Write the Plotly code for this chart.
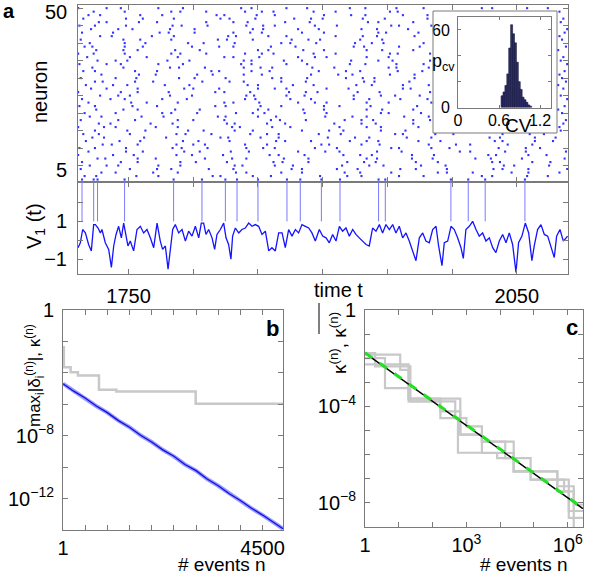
import plotly.graph_objects as go

W, H = 589, 575

# ---------------- data ----------------
# panel a: raster (spike times per neuron, neuron index = position + 1)
spike_times = [
    [1714.0, 1723.0, 1726.0, 1746.9, 1784.8, 1806.7, 1824.8, 1833.8, 1850.0, 1872.4, 1882.7, 1899.0, 1913.4, 1943.2, 1948.4, 1999.1, 2012.5, 2025.6, 2056.3],
    [1716, 1725, 1756, 1773, 1815, 1821, 1846, 1860, 1898, 1919, 1930, 1959, 1978, 2023, 2031, 2058, 2074],
    [1729, 1740, 1769, 1788, 1833, 1841, 1868, 1884, 1917, 1929, 1953, 1989, 1996, 2016, 2046, 2059, 2083],
    [1713, 1751, 1772, 1783, 1812, 1831, 1876, 1884, 1911, 1927, 1960, 1972, 1996, 2032, 2039, 2059, 2089],
    [1720, 1733, 1742, 1773, 1790, 1832, 1838, 1863, 1877, 1915, 1936, 1947, 1976, 1995, 2040, 2048, 2075],
    [1714, 1744, 1757, 1790, 1802, 1826, 1862, 1869, 1889, 1919, 1932, 1941, 1972, 1989, 2031, 2037, 2062, 2076],
    [1726, 1732, 1757, 1771, 1809, 1830, 1841, 1870, 1889, 1934, 1942, 1969, 1985, 2018, 2030, 2054, 2087],
    [1711, 1738, 1754, 1787, 1799, 1823, 1859, 1866, 1886, 1916, 1929, 1938, 1969, 1986, 2028, 2034, 2059, 2073],
    [1719, 1748, 1761, 1793, 1805, 1829, 1843, 1881, 1902, 1913, 1942, 1961, 2006, 2014, 2041, 2057, 2088],
    [1712, 1724, 1748, 1784, 1791, 1811, 1841, 1854, 1863, 1894, 1911, 1953, 1959, 1984, 1998, 2036, 2057, 2068],
    [1730, 1737, 1757, 1787, 1800, 1809, 1840, 1857, 1899, 1905, 1930, 1944, 1982, 2003, 2014, 2043, 2062],
    [1717, 1743, 1759, 1792, 1804, 1828, 1864, 1871, 1891, 1921, 1934, 1943, 1974, 1991, 2033, 2039, 2064, 2078],
    [1722, 1731, 1762, 1779, 1821, 1827, 1852, 1866, 1904, 1925, 1936, 1965, 1984, 2029, 2037, 2064, 2080],
    [1715, 1727, 1751, 1787, 1794, 1814, 1844, 1857, 1866, 1897, 1914, 1956, 1962, 1987, 2001, 2039, 2060, 2071],
    [1724, 1749, 1763, 1796, 1808, 1832, 1846, 1884, 1905, 1916, 1945, 1964, 2084],
    [1711, 1731, 1740, 1771, 1788, 1830, 1836, 1861, 1875, 1913, 1934, 1945, 1974, 2083],
    [1727, 1736, 1767, 1784, 1826, 1832, 1857, 1871, 1909, 1930, 1941, 1970, 2086],
    [1713, 1742, 1755, 1788, 1800, 1824, 1860, 1867, 1887, 1917, 1930, 1939, 1970, 1983, 2088],
    [1720, 1729, 1760, 1777, 1819, 1825, 1850, 1864, 1902, 1923, 1934, 1963, 1982],
    [1716, 1740, 1776, 1783, 1803, 1833, 1846, 1855, 1886, 1903, 1945, 1951, 1976, 2085],
    [1725, 1746, 1757, 1786, 1805, 1850, 1858, 1885, 1901, 1934, 1946, 1970, 2082],
    [1712, 1724, 1753, 1772, 1817, 1825, 1852, 1868, 1901, 1913, 1937, 1973, 2087],
    [1719, 1752, 1764, 1788, 1824, 1831, 1851, 1881, 1894, 1903, 1934, 1951, 1984],
    [1714, 1736, 1747, 1776, 1795, 1840, 1848, 1875, 1891, 1924, 1936, 1960, 1981, 2089],
    [1728, 1742, 1751, 1782, 1799, 1841, 1847, 1872, 1886, 1924, 1945, 1956, 1975, 2084],
    [1711, 1744, 1757, 1781, 1817, 1824, 1844, 1874, 1887, 1896, 1927, 1944, 1983],
    [1721, 1733, 1757, 1793, 1800, 1820, 1850, 1863, 1872, 1903, 1920, 1962, 1968, 2086],
    [1717, 1738, 1749, 1778, 1797, 1842, 1850, 1877, 1893, 1926, 1938, 1962, 1982, 2082],
    [1724, 1730, 1755, 1769, 1807, 1828, 1839, 1868, 1887, 1932, 1940, 1967, 2088],
    [1713, 1740, 1756, 1789, 1801, 1825, 1861, 1868, 1888, 1918, 1931, 1940, 1971, 2085],
    [1729, 1758, 1771, 1803, 1815, 1839, 1853, 1891, 1912, 1923, 1952, 1971, 2083],
    [1715, 1724, 1755, 1772, 1814, 1820, 1845, 1859, 1897, 1918, 1929, 1958, 1977, 2087],
    [1722, 1746, 1782, 1789, 1809, 1839, 1852, 1861, 1892, 1909, 1951, 1957, 1982],
    [1712, 1733, 1744, 1773, 1792, 1837, 1845, 1872, 1888, 1921, 1933, 1957, 1978, 2089],
    [1726, 1740, 1749, 1780, 1797, 1839, 1845, 1870, 1884, 1922, 1943, 1954, 1983, 2084],
    [1718, 1751, 1764, 1788, 1824, 1831, 1851, 1881, 1894, 1903, 1934, 1951, 2086],
    [1711, 1723, 1747, 1783, 1790, 1810, 1840, 1853, 1862, 1893, 1910, 1952, 1958, 1983],
    [1725, 1746, 1757, 1786, 1805, 1850, 1858, 1885, 1901, 1934, 1946, 1970, 2082],
    [1716, 1722, 1747, 1761, 1799, 1820, 1831, 1860, 1879, 1924, 1932, 1959, 1975, 2088],
    [1720, 1747, 1763, 1796, 1808, 1832, 1868, 1875, 1895, 1925, 1938, 1947, 1978],
    [1713, 1746, 1759, 1783, 1819, 1826, 1846, 1876, 1889, 1898, 1929, 1946, 2085],
    [1728, 1737, 1768, 1785, 1827, 1833, 1858, 1872, 1910, 1931, 1942, 1971, 2083],
    [1714, 1738, 1774, 1781, 1801, 1831, 1844, 1853, 1884, 1901, 1943, 1949, 1974, 2087],
    [1721, 1742, 1753, 1782, 1801, 1846, 1854, 1881, 1897, 1930, 1942, 1966, 2089],
    [1712, 1724, 1748, 1784, 1791, 1811, 1841, 1854, 1863, 1894, 1911, 1953, 1959, 1984],
    [1727, 1733, 1758, 1772, 1810, 1831, 1842, 1871, 1890, 1935, 1943, 1970, 2084],
    [1715, 1748, 1761, 1785, 1821, 1828, 1848, 1878, 1891, 1900, 1931, 1948, 1981, 2086],
    [1719, 1728, 1759, 1776, 1818, 1824, 1849, 1863, 1901, 1922, 1933, 1962, 1981],
    [1723, 1747, 1783, 1790, 1810, 1840, 1853, 1862, 1893, 1910, 1952, 1958, 2083],
    [1711, 1733, 1744, 1773, 1792, 1837, 1845, 1872, 1888, 1921, 1933, 1957, 1978, 2023, 2031, 2058, 2074],
]
neuron_ticks = [5, 10, 15, 20, 25, 30, 35, 40, 45, 50]
neuron_labels = {5: "5", 50: "50"}

# panel a: membrane potential of neuron 1
v_time = [1710.9, 1712.7, 1714.5, 1716.6, 1719.1, 1721.2, 1723.0, 1724.3, 1726.4, 1728.2,
          1729.4, 1732.0, 1734.6, 1736.7, 1738.5, 1740.3, 1742.3, 1744.4, 1746.2, 1747.5,
          1749.5, 1751.3, 1753.9, 1756.5, 1759.1, 1761.6, 1764.2, 1766.8, 1769.4, 1772.0,
          1774.5, 1776.3, 1778.4, 1780.5, 1782.3, 1784.1, 1786.1, 1788.7, 1791.3, 1793.9,
          1796.4, 1799.0, 1801.6, 1804.2, 1806.2, 1808.0, 1809.8, 1811.9, 1814.5, 1816.5,
          1818.3, 1820.9, 1823.5, 1825.3, 1827.3, 1829.1, 1830.4, 1832.5, 1835.1, 1837.6,
          1840.2, 1842.8, 1845.4, 1847.9, 1850.5, 1853.1, 1855.7, 1858.3, 1860.8, 1863.4,
          1866.0, 1868.6, 1871.1, 1873.7, 1876.3, 1878.9, 1881.4, 1884.0, 1886.6, 1889.2,
          1891.7, 1894.3,
          1897.4, 1900.0, 1902.6, 1905.1, 1907.7, 1910.3, 1912.9, 1915.4, 1918.0, 1920.6,
          1923.2, 1925.7, 1928.3, 1930.9, 1933.5, 1936.0, 1938.6, 1941.2, 1943.8, 1946.3,
          1948.9, 1951.5, 1954.1, 1956.6, 1959.2, 1961.8, 1964.4, 1966.9, 1969.5, 1972.1,
          1974.7, 1977.3, 1979.8, 1982.4, 1985.0, 1987.6, 1989.6, 1992.2, 1994.0, 1996.6,
          1999.2, 2001.7, 2004.3, 2006.9, 2008.7, 2010.7, 2013.3, 2015.9, 2018.5, 2021.0,
          2023.6, 2026.2, 2028.8, 2031.4, 2033.9, 2036.5, 2039.1, 2041.7, 2044.2, 2046.8,
          2049.4, 2051.4, 2054.0, 2056.6, 2059.2, 2061.7, 2063.5, 2066.1, 2068.7, 2071.3,
          2073.9, 2076.4, 2079.0, 2080.8, 2083.4, 2086.0, 2089.3]
v_values = [-0.39, -0.13, 0.57, 0.39, -0.22, -0.56, 0.83, 0.83, 0.65, 0.39,
            0.57, -0.13, -0.48, -1.43, -0.30, 0.31, 0.74, 0.13, 0.91, 0.39,
            -0.30, -0.04, -0.56, 0.57, 0.74, 0.39, 0.57, 0.13, -0.39, 0.91,
            -0.04, -0.48, -0.30, -1.52, -0.30, 0.57, 0.83, 0.39, 0.57, -0.04,
            0.48, 0.22, 0.74, 0.13, 0.91, 0.91, 0.31, 0.57, 0.13, -0.48,
            0.31, 0.57, 0.91, 0.13, -0.22, -1.00, 0.22, 0.65, 0.39, 0.57,
            0.65, 0.91, 0.74, 0.83, 0.74, 0.31, 0.48, -0.56, -0.39, -0.56,
            0.39, 0.39, -0.39, 0.57, 0.22, 0.57, 0.39, 0.83, 0.74, 0.65,
            0.39, -0.04,
            0.57, 0.22, 0.13, -0.13, 0.31, -0.04, 0.74, 0.48, 0.65, 0.22,
            0.57, 0.31, 0.13, -0.04, -0.22, -0.30, 0.65, 0.48, 0.83, 0.39,
            0.83, 0.57, 0.83, 0.39, 0.74, 0.13, 0.39, -0.04, -0.56, -1.08,
            0.13, 0.39, -0.04, -0.13, 0.57, 0.74, -0.30, -1.34, -0.13, -0.04,
            0.74, 0.57, 0.13, -0.39, -0.96, 0.57, 0.74, 1.00, 0.57, 0.22,
            0.39, -0.04, 0.13, -0.39, -0.65, -0.04, 0.31, -0.13, 0.39, -0.22,
            -1.69, -0.13, 0.22, 0.91, 0.39, -1.08, -0.30, 0.57, 0.83, 0.31,
            0.22, -0.30, -0.91, 0.22, 0.57, -0.04, 0.22]
v_threshold = 1.0
v_spike_peak = 3.3
time_ticks = [1750, 1800, 1850, 1900, 1950, 2000, 2050]
time_ticktext = ["1750", "", "", "", "", "", "2050"]
v_ticks = [-1, 0, 1, 2]
v_ticktext = ["\u22121", "", "1", ""]

# inset: CV histogram
cv_centers = [0.644, 0.672, 0.700, 0.728, 0.756, 0.784, 0.812, 0.840,
              0.868, 0.896, 0.924, 0.952, 0.980, 1.008, 1.036, 1.064]
cv_counts = [9, 12, 17, 26, 46, 64, 57, 50, 35, 20, 14, 8, 6, 4, 2, 1]
cv_bin_width = 0.028

# panel b
b_n = [1, 250, 500, 750, 1000, 1250, 1500, 1750, 2000, 2250, 2500,
       2750, 3000, 3250, 3500, 3750, 4000, 4250, 4500, 4750, 4960]
b_delta = [2.04e-5, 6.6e-6, 2.5e-6, 7.8e-7, 2.95e-7, 9.1e-8, 3.47e-8, 1.07e-8,
           3.98e-9, 1.26e-9, 4.9e-10, 1.48e-10, 6.0e-11, 1.74e-11, 6.5e-12,
           2.04e-12, 7.6e-13, 2.4e-13, 8.9e-14, 2.8e-14, 1.2e-14]
b_kappa_n = [1, 20, 173, 338, 812, 1203, 2992, 4960]
b_kappa = [4.2e-3, 2.3e-4, 1.1e-4, 6.8e-5, 8.5e-6, 6.6e-6, 1.1e-6, 1.1e-6]

# panel c
c_stairs = [
    ([1, 2, 19.5, 170, 660, 2880, 25100, 79400, 1.07e6, 3e6],
     [1.62e-2, 5.6e-3, 1.62e-4, 6.2e-5, 6.8e-6, 1.17e-6, 2.04e-7, 9.3e-8, 4.6e-9, 4.6e-9]),
    ([1, 3.9, 19.5, 170, 562, 8130, 25100, 490000, 1.5e6, 3e6],
     [1.0e-2, 5.75e-4, 2.1e-4, 3.3e-5, 1.2e-6, 7.2e-7, 2.04e-7, 4.9e-8, 1e-10, 1e-10]),
    ([1, 2, 22, 468, 1000, 2880, 14100, 79400, 776000, 1.5e6, 3e6],
     [5.6e-3, 4.6e-3, 1.62e-4, 3.3e-5, 1.48e-5, 3.5e-6, 7.2e-7, 9.3e-8, 3.0e-8, 8.5e-9, 8.5e-9]),
    ([1, 11, 19.5, 660, 2880, 25100, 490000, 1.07e6, 3e6],
     [1.41e-2, 3.3e-3, 2.1e-4, 6.8e-6, 3.5e-6, 2.04e-7, 3.0e-8, 2.4e-9, 2.4e-9]),
]
c_mean_n = [1, 2.8e6]
c_mean_kappa = [1.62e-2, 5.8e-9]
c_fit_n = [1, 2.6e6]
c_fit_kappa = [1.70e-2, 6.6e-9]

# ---------------- figure ----------------
def fx(p):
    return p / W


def fy(p):
    return 1 - p / H


fig = go.Figure()

rx, ry = [], []
for i, times in enumerate(spike_times, start=1):
    rx += list(times)
    ry += [i] * len(times)
fig.add_trace(go.Scatter(x=rx, y=ry, mode="markers", xaxis="x", yaxis="y",
                         marker=dict(symbol="square", size=2.1, color="#3333ff",
                                     line=dict(width=0))))

sx, sy = [], []
for t in spike_times[0]:
    sx += [t, t, None]
    sy += [v_threshold, v_spike_peak, None]
fig.add_trace(go.Scatter(x=sx, y=sy, mode="lines", xaxis="x2", yaxis="y2",
                         line=dict(color="#7a7aff", width=1)))
fig.add_trace(go.Scatter(x=v_time, y=v_values, mode="lines", xaxis="x2", yaxis="y2",
                         line=dict(color="#1414ff", width=1.3)))

fig.add_trace(go.Bar(x=cv_centers, y=cv_counts, width=cv_bin_width, xaxis="x3", yaxis="y3",
                     marker=dict(color="#2d2d80", line=dict(color="#101030", width=0.6))))

fig.add_trace(go.Scatter(x=b_kappa_n, y=b_kappa, mode="lines", line_shape="hv",
                         xaxis="x4", yaxis="y4", line=dict(color="#c8c8c8", width=2.5)))
fig.add_trace(go.Scatter(x=b_n, y=b_delta, mode="lines", xaxis="x4", yaxis="y4",
                         line=dict(color="rgba(110,110,255,0.7)", width=4)))
fig.add_trace(go.Scatter(x=b_n, y=b_delta, mode="lines", xaxis="x4", yaxis="y4",
                         line=dict(color="#1010e0", width=1.3)))

for n_vals, k_vals in c_stairs:
    fig.add_trace(go.Scatter(x=n_vals, y=k_vals, mode="lines", line_shape="hv",
                             xaxis="x5", yaxis="y5", line=dict(color="#c8c8c8", width=2.2)))
fig.add_trace(go.Scatter(x=c_mean_n, y=c_mean_kappa, mode="lines", xaxis="x5", yaxis="y5",
                         line=dict(color="black", width=1.5)))
fig.add_trace(go.Scatter(x=c_fit_n, y=c_fit_kappa, mode="lines", xaxis="x5", yaxis="y5",
                         line=dict(color="#22e022", width=3, dash="dash")))

ax = dict(showline=True, linecolor="#7a7a7a", linewidth=1, mirror="allticks",
          ticks="inside", tickcolor="#7a7a7a", ticklen=5, showgrid=False,
          zeroline=False, automargin=False, ticklabeloverflow="allow",
          tickfont=dict(size=20, color="black"))

fig.update_layout(
    width=W, height=H, autosize=False,
    margin=dict(l=0, r=0, t=0, b=0, pad=0),
    paper_bgcolor="white", plot_bgcolor="rgba(0,0,0,0)",
    showlegend=False,
    font=dict(family="Liberation Sans, Arial, sans-serif", size=20, color="black"),
    xaxis=dict(ax, domain=[fx(78), fx(568)], range=[1710.9, 2089.6], anchor="y",
               tickvals=time_ticks, showticklabels=False),
    yaxis=dict(ax, domain=[fy(182), fy(5)], range=[0.3, 50.9], anchor="x",
               tickvals=neuron_ticks, showticklabels=False),
    xaxis2=dict(ax, domain=[fx(78), fx(568)], range=[1710.9, 2089.6], anchor="y2",
                tickvals=time_ticks, ticktext=time_ticktext, ticklabelstandoff=4),
    yaxis2=dict(ax, domain=[fy(274), fy(182)], range=[-1.78, 3.08], anchor="x2",
                tickvals=v_ticks, ticktext=v_ticktext, ticklabelstandoff=6),
    xaxis3=dict(ax, domain=[fx(458), fx(551)], range=[0, 1.36], anchor="y3",
                tickvals=[0, 0.6, 1.2], ticktext=["0", "0.6", "1.2"], ticklen=3,
                tickfont=dict(size=16, color="black"), ticklabelstandoff=-2),
    yaxis3=dict(ax, domain=[fy(107.5), fy(17)], range=[0, 70], anchor="x3",
                tickvals=[0, 20, 40, 60], ticktext=["0", "", "", "60"], ticklen=3,
                tickfont=dict(size=16, color="black"), ticklabelstandoff=4),
    xaxis4=dict(ax, domain=[fx(63), fx(283)], range=[1, 4960], anchor="y4",
                tickvals=[1, 500, 1000, 1500, 2000, 2500, 3000, 3500, 4000, 4500],
                ticktext=["1", "", "", "", "", "", "", "", "", "4500"], ticklabelstandoff=0),
    yaxis4=dict(ax, domain=[fy(530), fy(310)], type="log", range=[-14, 0], anchor="x4",
                tickvals=[1, 1e-2, 1e-4, 1e-6, 1e-8, 1e-10, 1e-12, 1e-14],
                ticktext=["1", "", "", "", "10<sup>\u22128</sup>", "", "10<sup>\u221212</sup>", ""],
                ticklabelstandoff=4),
    xaxis5=dict(ax, domain=[fx(365), fx(583)], type="log", range=[0, 6.45], anchor="y5",
                tickvals=[1, 10, 100, 1e3, 1e4, 1e5, 1e6],
                ticktext=["1", "", "", "10<sup>3</sup>", "", "", "10<sup>6</sup>"],
                ticklabelstandoff=0),
    yaxis5=dict(ax, domain=[fy(527), fy(310)], type="log", range=[-9, 0], anchor="x5",
                tickvals=[1, 1e-1, 1e-2, 1e-3, 1e-4, 1e-5, 1e-6, 1e-7, 1e-8, 1e-9],
                ticktext=["1", "", "", "", "10<sup>\u22124</sup>", "", "", "", "10<sup>\u22128</sup>", ""],
                ticklabelstandoff=4),
)

# inset frame
fig.add_shape(type="rect", xref="paper", yref="paper",
              x0=fx(433), x1=fx(557), y0=fy(133), y1=fy(11),
              line=dict(color="#7a7a7a", width=1), layer="above")
# overline of the averaged kappa in the panel c label (rotated text)
fig.add_shape(type="line", xref="paper", yref="paper",
              x0=fx(319), x1=fx(319), y0=fy(334), y1=fy(303),
              line=dict(color="black", width=1))

# neuron tick labels (placed on the raster's y scale)
for val, txt in neuron_labels.items():
    fig.add_annotation(text=txt, x=fx(69), y=val, xref="paper", yref="y",
                       showarrow=False, xanchor="right", yanchor="middle",
                       yshift=-4, font=dict(size=20, color="black"))


def ann(text, x, y, size=20, angle=0, bold=False):
    fig.add_annotation(text=f"<b>{text}</b>" if bold else text, x=fx(x), y=fy(y),
                       xref="paper", yref="paper", showarrow=False,
                       xanchor="center", yanchor="middle", textangle=angle,
                       font=dict(size=size, color="black"))


ann("a", 9, 11, size=20, bold=True)
ann("b", 272, 328, size=22, bold=True)
ann("c", 572, 327, size=22, bold=True)
ann("neuron", 40, 92, size=20, angle=-90)
ann("V<sub>1</sub> (t)", 35, 226, size=20, angle=-90)
ann("time t", 338, 290, size=20)
ann("p<sub>cv</sub>", 443, 62, size=18)
ann("CV", 518, 126, size=19)
ann("max<sub>i</sub>|\u03b4<sub>i</sub><sup>(n)</sup>|, \u03ba<sup>(n)</sup>", 34, 376, size=17, angle=-90)
ann("\u03ba<sup>(n)</sup>, \u03ba<sup>(n)</sup>", 338, 343, size=19, angle=-90)
ann("# events n", 222, 564, size=19)
ann("# events n", 524, 564, size=19)

fig.write_html("out.html", config={"displayModeBar": False},
               post_script="document.body.style.margin='0px';document.body.style.overflow='hidden';")
